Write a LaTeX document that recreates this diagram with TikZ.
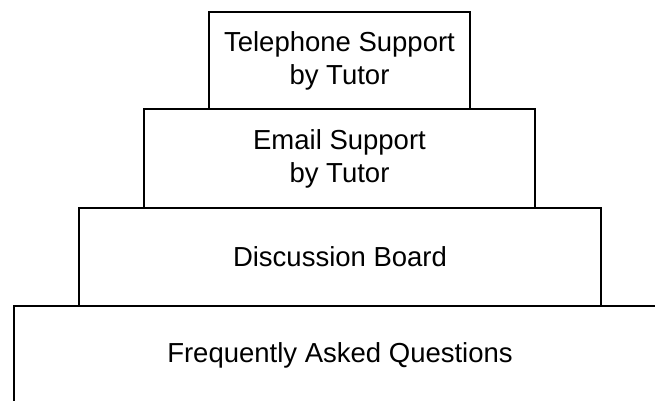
\documentclass[tikz,border=0pt]{standalone}
\usepackage{fontspec}
\setmainfont{Liberation Sans}
\begin{document}
\begin{tikzpicture}[x=1pt,y=1pt,
  tier/.style={draw=black,line width=1.3pt,rectangle,inner sep=0pt,align=center,
    font=\fontsize{27.5}{33}\selectfont}]
\useasboundingbox (0,0) rectangle (655,401);
\clip (0,0) rectangle (655,401);
\node[tier,minimum width=652,minimum height=98] (faq) at (340,46) {Frequently Asked Questions};
\node[tier,minimum width=522,minimum height=98] (disc) at (340,144) {Discussion Board};
\node[tier,minimum width=391,minimum height=99] (email) at (339.5,242.5) {Email Support\\by Tutor};
\node[tier,minimum width=261,minimum height=97] (tel) at (339.5,340.5) {Telephone Support\\by Tutor};
\end{tikzpicture}
\end{document}
